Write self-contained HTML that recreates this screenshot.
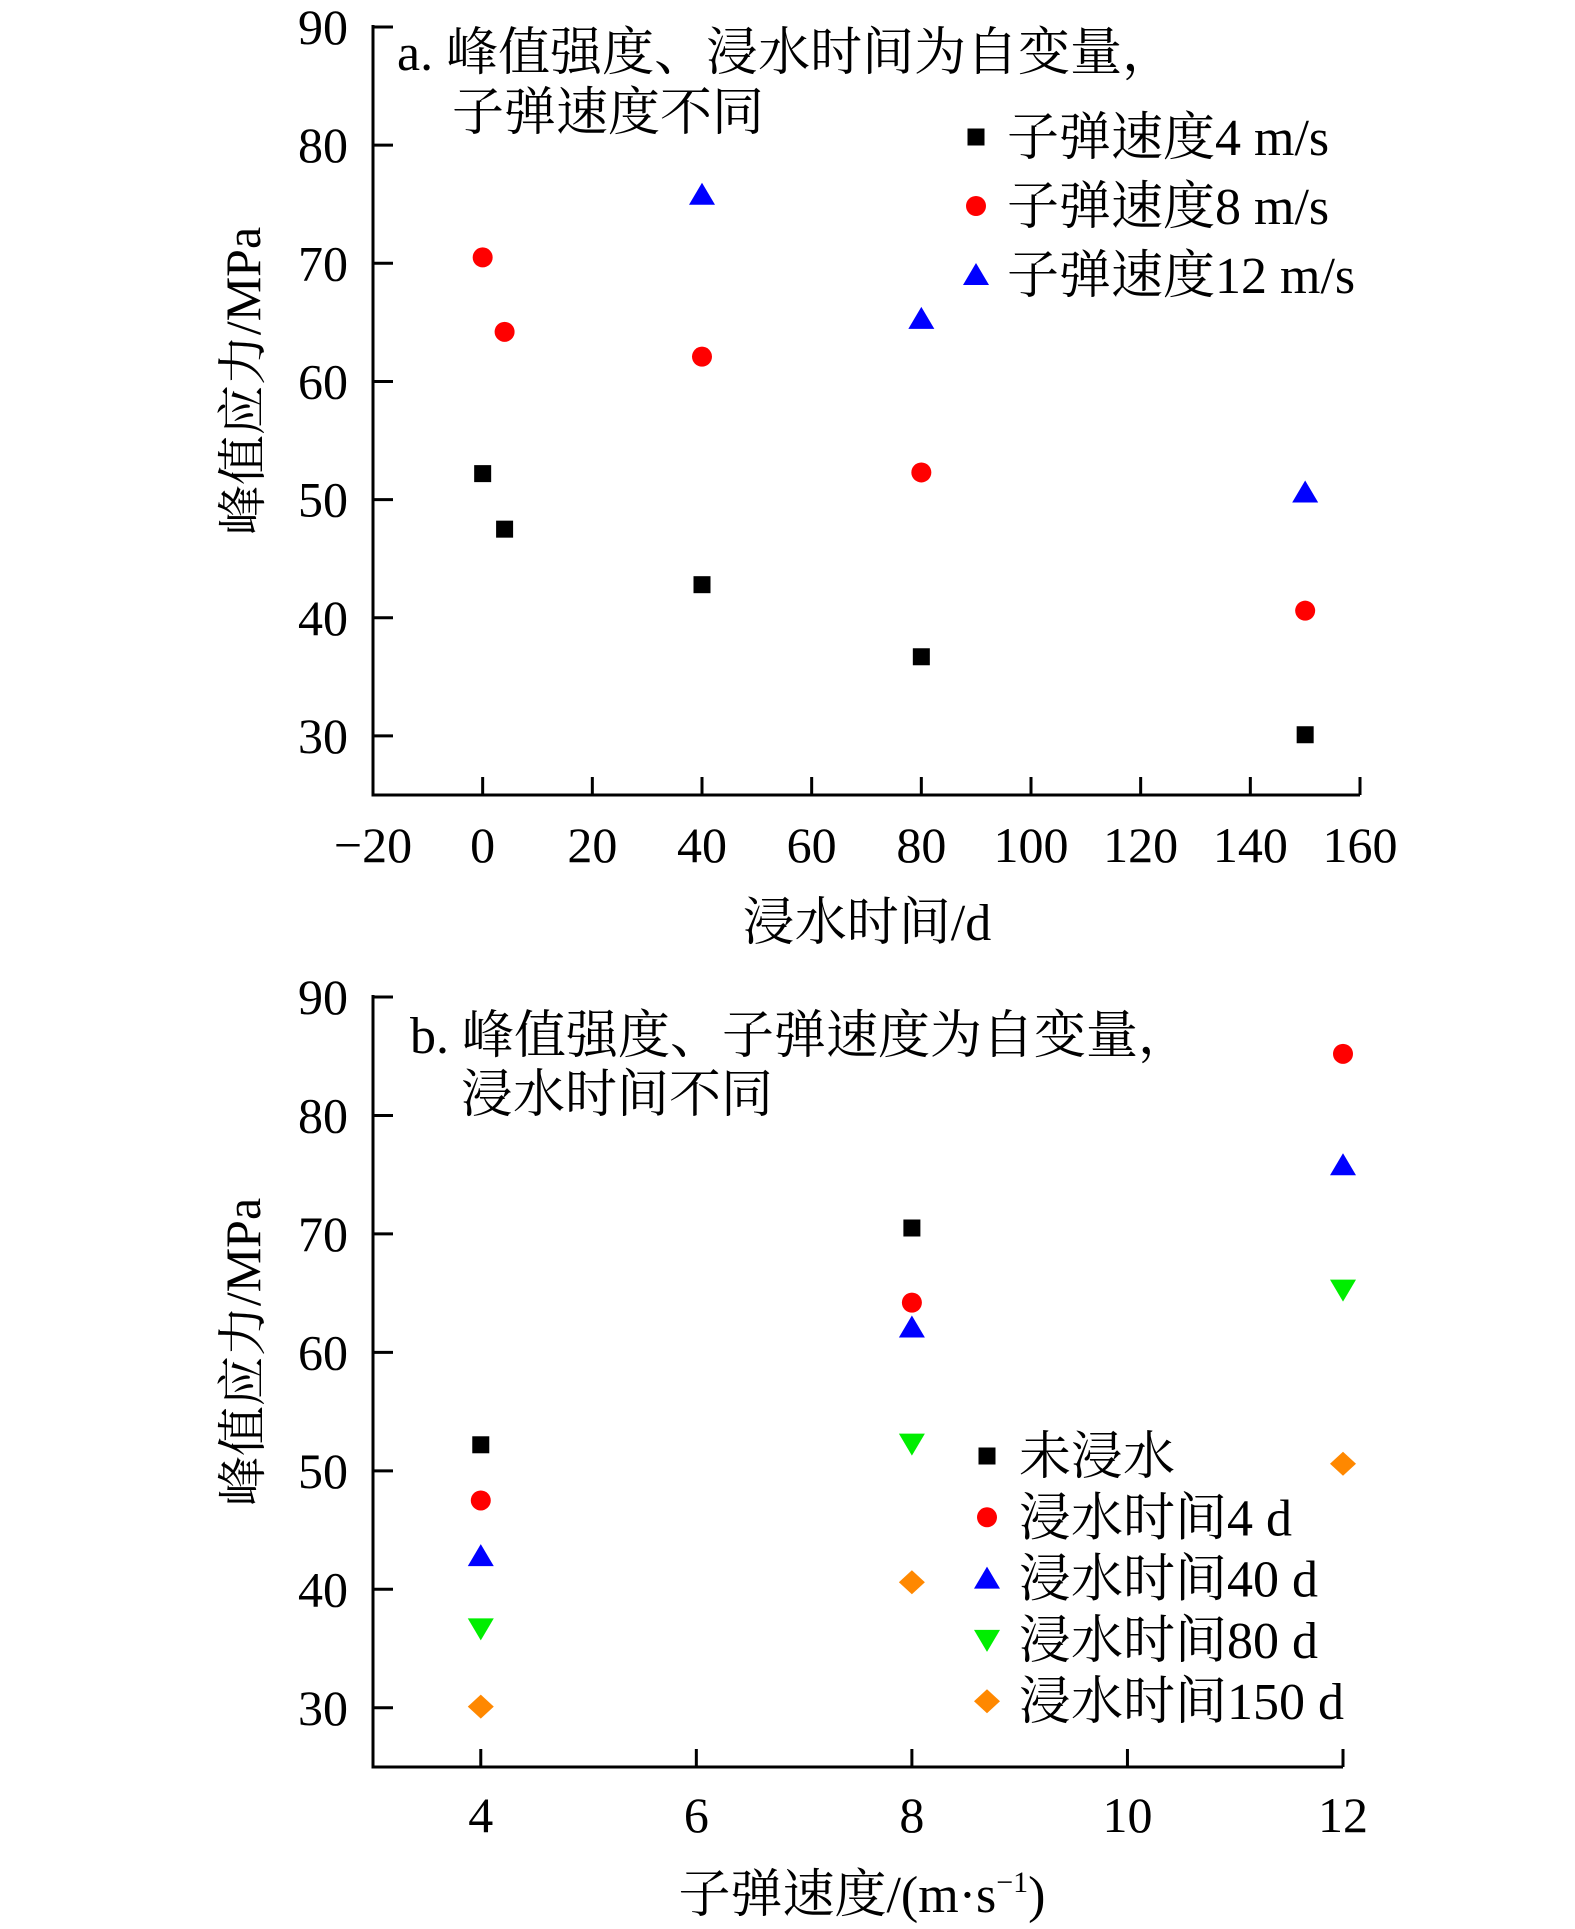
<!DOCTYPE html>
<html><head><meta charset="utf-8"><style>
html,body{margin:0;padding:0;background:#fff;}
svg text{font-family:"Liberation Serif","Noto Serif CJK SC",serif;fill:#000;}
</style></head><body>
<svg id="chart" width="1575" height="1924" viewBox="0 0 1575 1924" xmlns="http://www.w3.org/2000/svg"></svg>
<script>
const aTimes4=[0,4,40,80,150];
const aV4=[52.2,47.5,42.8,36.7,30.1];
const aTimes8=[0,4,40,80,150];
const aV8=[70.5,64.2,62.1,52.3,40.6];
const aTimes12=[40,80,150];
const aV12=[75.8,65.3,50.6];
const aXTicks=[-20,0,20,40,60,80,100,120,140,160];
const yTicks=[30,40,50,60,70,80,90];
const bSpeeds=[4,8,12];
const bNone=[52.2,70.5,null];
const b4d=[47.5,64.2,85.2];
const b40d=[42.8,62.1,75.8];
const b80d=[36.7,52.3,65.3];
const b150d=[30.1,40.6,50.6];
const bXTicks=[4,6,8,10,12];

const NS="http://www.w3.org/2000/svg";
const svg=document.getElementById('chart');
function mk(tag,attrs,parent){const e=document.createElementNS(NS,tag);for(const k in attrs)e.setAttribute(k,attrs[k]);(parent||svg).appendChild(e);return e;}
function txt(s,x,y,size,anchor,parent){const t=mk('text',{x:x,y:y,'font-size':size,'text-anchor':anchor||'start'},parent);t.textContent=s;return t;}
function marker(type,cx,cy,parent){
  let e;
  if(type==='sq') e=mk('rect',{x:cx-8.5,y:cy-8.5,width:17,height:17,fill:'#000'},parent);
  else if(type==='ci') e=mk('circle',{cx:cx,cy:cy,r:10,fill:'#f00'},parent);
  else if(type==='up') e=mk('polygon',{points:`${cx-13},${cy+10} ${cx+13},${cy+10} ${cx},${cy-12}`,fill:'#00f'},parent);
  else if(type==='dn') e=mk('polygon',{points:`${cx-13},${cy-10} ${cx+13},${cy-10} ${cx},${cy+12}`,fill:'#0e0'},parent);
  else e=mk('polygon',{points:`${cx},${cy-12} ${cx+13},${cy} ${cx},${cy+12} ${cx-13},${cy}`,fill:'#f80'},parent);
  return e;
}
function panel(opts){
  const g=mk('g',{});
  
  
  const {x0,x1,xmin,xmax,ytop,ybot}=opts;
  const X=v=>x0+(v-xmin)/(xmax-xmin)*(x1-x0);
  const Y=v=>ybot-(v-25)/(90-25)*(ybot-ytop);
  const ax=mk('path',{d:`M${x0},${Y(90)-2} V${ybot} H${x1}`,stroke:'#000','stroke-width':3,fill:'none'},g);
  
  
  yTicks.forEach(v=>{
    mk('line',{x1:x0,x2:x0+20,y1:Y(v),y2:Y(v),stroke:'#000','stroke-width':3},g);
    const t=txt(String(v),348,Y(v)+17,50,'end',g);
    
    
  });
  opts.xticks.forEach(v=>{
    mk('line',{x1:X(v),x2:X(v),y1:ybot,y2:ybot-18,stroke:'#000','stroke-width':3},g);
    const t=txt((v<0?'\u2212'+(-v):String(v)),X(v),opts.xtickY,50,'middle',g);
    
    
  });
  opts.series.forEach(s=>{
    s.xs.forEach((xv,i)=>{
      if(s.ys[i]==null) return;
      const m=marker(s.type,X(xv),Y(s.ys[i]),g);
      
      
    });
  });
  return {g,X,Y};
}
const pa=panel({name:'panel-a',x0:373,x1:1360,xmin:-20,xmax:160,ytop:27,ybot:795,xticks:aXTicks,xtickY:862,
 series:[{name:'speed-4',type:'sq',xs:aTimes4,ys:aV4},{name:'speed-8',type:'ci',xs:aTimes8,ys:aV8},{name:'speed-12',type:'up',xs:aTimes12,ys:aV12}]});
const pb=panel({name:'panel-b',x0:373,x1:1343,xmin:3,xmax:12,ytop:997,ybot:1767,xticks:bXTicks,xtickY:1832,
 series:[{name:'unsoaked',type:'sq',xs:bSpeeds,ys:bNone},{name:'soak-4d',type:'ci',xs:bSpeeds,ys:b4d},{name:'soak-40d',type:'up',xs:bSpeeds,ys:b40d},{name:'soak-80d',type:'dn',xs:bSpeeds,ys:b80d},{name:'soak-150d',type:'di',xs:bSpeeds,ys:b150d}]});

function label(s,x,y,size,anchor,name){const t=txt(s,x,y,size,anchor);return t;}
label('a. 峰值强度、浸水时间为自变量，',397,70,52,'start','panel-a-title');
label('子弹速度不同',452,130,52,'start','panel-a-subtitle');
label('b. 峰值强度、子弹速度为自变量，',410,1053,52,'start','panel-b-title');
label('浸水时间不同',461,1112,52,'start','panel-b-subtitle');
label('浸水时间/d',867,940,52,'middle','x-axis-title-a');
const xb=label('子弹速度/(m·s',862,1912,52,'middle','x-axis-title-b');
const sup=mk('tspan',{'font-size':30,dy:-20});sup.textContent='−1';xb.appendChild(sup);
const cl=mk('tspan',{dy:20});cl.textContent=')';xb.appendChild(cl);
[[381,'y-axis-title-a'],[1352,'y-axis-title-b']].forEach(([cy,n])=>{
  const t=txt('峰值应力/MPa',0,0,50,'middle');
  t.setAttribute('transform',`translate(260,${cy}) rotate(-90)`);
  
  
});
const legA=[['sq','子弹速度4 m/s'],['ci','子弹速度8 m/s'],['up','子弹速度12 m/s']];
legA.forEach(([t,s],i)=>{const y=137+i*69;const m=marker(t,976,y);label(s,1007,y+18,52,'start','legend-a-entry');});
const legB=[['sq','未浸水'],['ci','浸水时间4 d'],['up','浸水时间40 d'],['dn','浸水时间80 d'],['di','浸水时间150 d']];
legB.forEach(([t,s],i)=>{const y=1456+i*61.3;const m=marker(t,987,y);label(s,1019,y+18,52,'start','legend-b-entry');});
</script>
</body></html>
